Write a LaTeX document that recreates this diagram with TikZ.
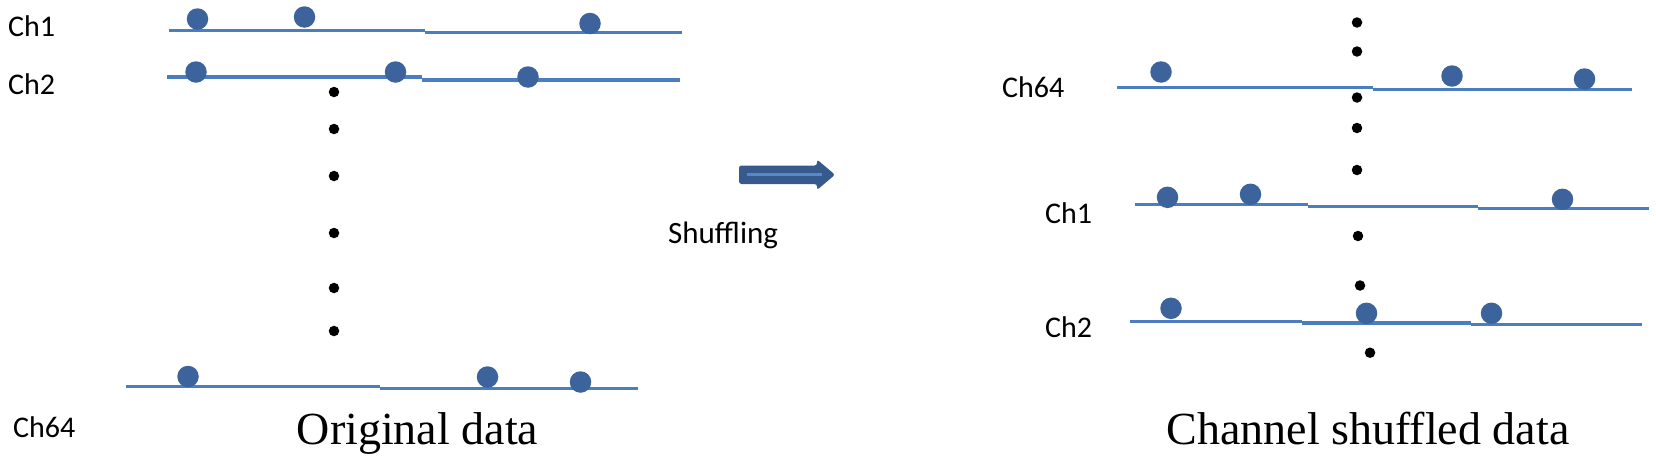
\documentclass[tikz,border=0pt]{standalone}
\usepackage{fontspec}
\setmainfont{Liberation Serif}
\newfontfamily\calib{Carlito}
\definecolor{linec}{RGB}{74,126,193}
\definecolor{dotc}{RGB}{60,99,156}
\definecolor{arrc}{RGB}{54,90,142}
\definecolor{arrl}{RGB}{88,136,204}
\tikzset{
  chline/.style={draw=linec, line width=3.2pt},
  bdot/.style={circle, fill=dotc, minimum size=21.5pt, inner sep=0pt},
  kdot/.style={circle, fill=black, minimum size=10.5pt, inner sep=0pt},
  lbl/.style={font=\calib\fontsize{30}{36}\selectfont, anchor=base west, inner sep=0pt},
  ttl/.style={font=\fontsize{46}{54}\selectfont, anchor=base, inner sep=0pt},
}
\begin{document}
\begin{tikzpicture}[x=1pt,y=-1pt]
\useasboundingbox (0,0) rectangle (1656,461);
% ---------- left: original data ----------
\node[lbl] (l1) at (8,36.7) {Ch1};
\node[lbl] (l2) at (8,94) {Ch2};
\node[lbl] (l64) at (13,437) {Ch64};
% Ch1 lines
\coordinate (a1) at (169,30.6); \coordinate (a2) at (424.5,30.6);
\coordinate (a3) at (424.5,32.7); \coordinate (a4) at (682,32.7);
\draw[chline] (a1) -- (a2); \draw[chline] (a3) -- (a4);
% Ch2 lines
\coordinate (b1) at (167,77); \coordinate (b2) at (422,77);
\coordinate (b3) at (422,80); \coordinate (b4) at (680,80);
\draw[chline] (b1) -- (b2); \draw[chline] (b3) -- (b4);
% Ch64 lines
\coordinate (c1) at (126,386.6); \coordinate (c2) at (380,386.6);
\coordinate (c3) at (380,388.7); \coordinate (c4) at (638,388.7);
\draw[chline] (c1) -- (c2); \draw[chline] (c3) -- (c4);
% blue dots
\node[bdot] (d11) at (197.5,19) {};
\node[bdot] (d12) at (304.5,17) {};
\node[bdot] (d13) at (590,23.5) {};
\node[bdot] (d21) at (196,72) {};
\node[bdot] (d22) at (395.5,72) {};
\node[bdot] (d23) at (528,77) {};
\node[bdot] (d31) at (188,376.5) {};
\node[bdot] (d32) at (487.5,377) {};
\node[bdot] (d33) at (580.5,382) {};
% black dots
\foreach \i/\y in {1/92,2/129,3/176,4/233,5/288,6/331}
  \node[kdot] (k\i) at (334,\y) {};
\node[ttl] (t1) at (417.5,444) {Original data};
% ---------- arrow ----------
\fill[arrc, rounded corners=2.5pt] (739,165.5) -- (817,165.5) -- (817,159.5) -- (835,174.7) -- (817,190) -- (817,184) -- (739,184) -- cycle;
\coordinate (s1) at (747,174.5); \coordinate (s2) at (822,174.5);
\draw[arrl, line width=2.8pt] (s1) -- (s2);
\node[lbl, font=\calib\fontsize{31}{36}\selectfont] (sh) at (668,243) {Shuffling};
% ---------- right: shuffled data ----------
\node[lbl] (r64) at (1002,97) {Ch64};
\node[lbl] (r1) at (1045,223) {Ch1};
\node[lbl] (r2) at (1045,337) {Ch2};
% Ch64 lines
\coordinate (e1) at (1117,87.7); \coordinate (e2) at (1373,87.7);
\coordinate (e3) at (1373,89.5); \coordinate (e4) at (1632,89.5);
\draw[chline] (e1) -- (e2); \draw[chline] (e3) -- (e4);
% Ch1 lines
\coordinate (f1) at (1135,204.3); \coordinate (f2) at (1308,204.3);
\coordinate (f3) at (1308,206.3); \coordinate (f4) at (1478,206.3);
\coordinate (f5) at (1478,208.3); \coordinate (f6) at (1649,208.3);
\draw[chline] (f1) -- (f2); \draw[chline] (f3) -- (f4); \draw[chline] (f5) -- (f6);
% Ch2 lines
\coordinate (g1) at (1130,321.3); \coordinate (g2) at (1302,321.3);
\coordinate (g3) at (1302,323); \coordinate (g4) at (1471,323);
\coordinate (g5) at (1471,324.5); \coordinate (g6) at (1642,324.5);
\draw[chline] (g1) -- (g2); \draw[chline] (g3) -- (g4); \draw[chline] (g5) -- (g6);
% blue dots
\node[bdot] (p1) at (1161,72) {};
\node[bdot] (p2) at (1452,76) {};
\node[bdot] (p3) at (1584.5,79) {};
\node[bdot] (q1) at (1167.5,197.3) {};
\node[bdot] (q2) at (1250.5,194.3) {};
\node[bdot] (q3) at (1562.5,199.3) {};
\node[bdot] (u1) at (1171,308.3) {};
\node[bdot] (u2) at (1366.5,313.3) {};
\node[bdot] (u3) at (1491.5,313.3) {};
% black dots
\node[kdot] (m1) at (1357,22.5) {};
\node[kdot] (m2) at (1357,51.5) {};
\node[kdot] (m3) at (1357,97.5) {};
\node[kdot] (m4) at (1357,128) {};
\node[kdot] (m5) at (1357,170) {};
\node[kdot] (m6) at (1358,236) {};
\node[kdot] (m7) at (1360,285.5) {};
\node[kdot] (m8) at (1370,352.7) {};
\node[ttl] (t2) at (1368,444) {Channel shuffled data};
\end{tikzpicture}
\end{document}
